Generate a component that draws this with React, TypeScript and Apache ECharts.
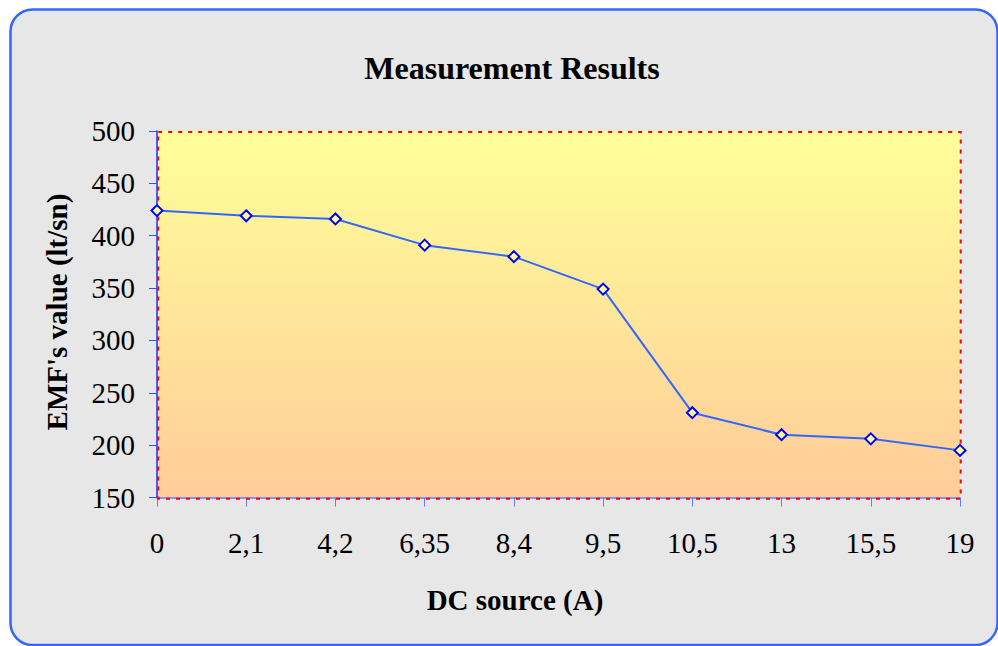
import React, { useEffect, useRef } from "react";
import * as echarts from "echarts";

const categories = ["0", "2,1", "4,2", "6,35", "8,4", "9,5", "10,5", "13", "15,5", "19"];
const emfValues = [424, 419, 416, 391, 380, 349, 231, 210, 206, 195];
const yMin = 150;
const yMax = 500;
const yInterval = 50;
const titleText = "Measurement Results";
const xAxisTitle = "DC source (A)";
const yAxisTitle = "EMF's value (lt/sn)";

export default function App() {
  const ref = useRef<HTMLDivElement>(null);
  useEffect(() => {
    const chart = echarts.init(ref.current!, null, { renderer: "svg" });
    const font = '"Liberation Serif", "Times New Roman", serif';
    chart.setOption({
      animation: false,
      backgroundColor: "#ffffff",
      grid: {
        left: 157,
        top: 131,
        width: 803,
        height: 366.5,
        show: true,
        borderWidth: 0,
        backgroundColor: new echarts.graphic.LinearGradient(0, 0, 0, 1, [
          { offset: 0, color: "#FFFF99" },
          { offset: 1, color: "#FFCC99" },
        ]),
      },
      xAxis: {
        type: "category",
        data: categories,
        boundaryGap: false,
        axisLine: { show: true, lineStyle: { color: "#5F7FFF", width: 1.5 } },
        axisTick: { show: true, inside: false, length: 9, alignWithLabel: true, lineStyle: { color: "#5F7FFF", width: 1 } },
        axisLabel: { color: "#000", fontFamily: font, fontSize: 29, margin: 31 },
        splitLine: { show: false },
      },
      yAxis: {
        type: "value",
        min: yMin,
        max: yMax,
        interval: yInterval,
        axisLine: { show: true, lineStyle: { color: "#1F2FFF", width: 1.5 } },
        axisTick: { show: true, inside: false, length: 8, lineStyle: { color: "#2F4FFF", width: 1 } },
        axisLabel: { color: "#000", fontFamily: font, fontSize: 29, margin: 22 },
        splitLine: { show: false },
      },
      series: [
        {
          type: "line",
          data: emfValues,
          symbol: "diamond",
          symbolSize: 11,
          lineStyle: { color: "#3366FF", width: 2 },
          itemStyle: { color: "#FFFF99", borderColor: "#0000FF", borderWidth: 2 },
          z: 5,
        },
      ],
      graphic: [
        {
          type: "rect",
          z: -20,
          shape: { x: 10.5, y: 9.5, width: 987, height: 635.5, r: 22 },
          style: { fill: "#E7E7E7", stroke: "#3366FF", lineWidth: 2.5 },
        },
        {
          type: "rect",
          z: 1,
          shape: { x: 158.2, y: 132, width: 802.5, height: 366.8 },
          style: { fill: "none", stroke: "#FF0000", lineWidth: 2, lineDash: [4, 6] },
        },
        {
          type: "text",
          x: 512,
          y: 68,
          style: { text: titleText, fill: "#000", font: `bold 32px ${font}`, textAlign: "center", textVerticalAlign: "middle" },
        },
        {
          type: "text",
          x: 515,
          y: 600,
          style: { text: xAxisTitle, fill: "#000", font: `bold 29px ${font}`, textAlign: "center", textVerticalAlign: "middle" },
        },
        {
          type: "text",
          x: 57,
          y: 312,
          rotation: Math.PI / 2,
          style: { text: yAxisTitle, fill: "#000", font: `bold 29px ${font}`, textAlign: "center", textVerticalAlign: "middle" },
        },
      ],
    });
    return () => chart.dispose();
  }, []);
  return <div ref={ref} style={{ position: "absolute", left: 0, top: 0, width: 998, height: 646 }} />;
}
